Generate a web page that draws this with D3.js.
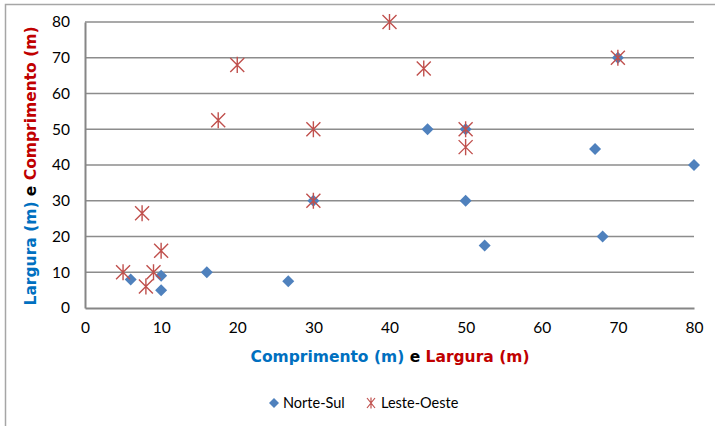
<!DOCTYPE html>
<html><head><meta charset="utf-8">
<script src="https://cdn.jsdelivr.net/npm/d3@7"></script>
<style>body{margin:0;background:#fff}svg{display:block}</style>
</head><body><svg id="c" width="715" height="426"></svg>
<script>
const seriesNames = ["Norte-Sul", "Leste-Oeste"];
const norteSulX = [6, 10, 10, 16, 26.7, 30, 45, 50, 50, 52.5, 67, 68, 70, 80];
const norteSulY = [8, 9, 5, 10, 7.5, 30, 50, 50, 30, 17.5, 44.5, 20, 70, 40];
const lesteOesteX = [5, 7.5, 8, 9, 10, 17.5, 20, 30, 30, 40, 44.5, 50, 50, 70];
const lesteOesteY = [10, 26.5, 6, 10, 16, 52.5, 68, 50, 30, 80, 67, 50, 45, 70];
const xTicks = [0, 10, 20, 30, 40, 50, 60, 70, 80];
const yTicks = [0, 10, 20, 30, 40, 50, 60, 70, 80];

const svg = d3.select("#c");
const blue = "#4F81BD", red = "#C0504D";
const tBlue = "#0070C0", tRed = "#C00000";
const tickFont = "Lato, 'Open Sans', sans-serif";
const titleFont = "'DejaVu Sans', Verdana, sans-serif";

// outer frame
svg.append("path").attr("d", "M5.5,426 L5.5,4.5 L715,4.5")
  .attr("fill", "none").attr("stroke", "#a6a6a6").attr("stroke-width", 1.5);

const x = d3.scaleLinear().domain([0, 80]).range([85, 694]);
const y = d3.scaleLinear().domain([0, 80]).range([308, 22]);

// gridlines
svg.append("g").selectAll("line").data(yTicks.filter(d => d > 0)).join("line")
  .attr("x1", x(0)).attr("x2", x(80)).attr("y1", d => y(d)).attr("y2", d => y(d))
  .attr("stroke", "#8c8c8c").attr("stroke-width", 1.3);

// axes
const yAxis = svg.append("g").attr("transform", `translate(${x(0)},0)`)
  .call(d3.axisLeft(y).tickValues(yTicks).tickSize(0).tickPadding(15));
const xAxis = svg.append("g").attr("transform", `translate(0,${y(0)})`)
  .call(d3.axisBottom(x).tickValues(xTicks).tickSize(0).tickPadding(14));
[yAxis, xAxis].forEach(a => {
  a.select(".domain").attr("stroke", "#868686").attr("stroke-width", 2);
  a.selectAll("text").attr("font-family", tickFont).attr("font-size", 15.5).attr("fill", "#000");
});

// series
const nsData = norteSulX.map((v, i) => [v, norteSulY[i]]);
const loData = lesteOesteX.map((v, i) => [v, lesteOesteY[i]]);
const diamond = "M0,-6 L6,0 L0,6 L-6,0 Z";
const star = s => `M${-s},${-s} L${s},${s} M${-s},${s} L${s},${-s} M0,${-s*1.15} L0,${s*1.15}`;

svg.append("g").selectAll("path").data(nsData).join("path")
  .attr("transform", d => `translate(${x(d[0])},${y(d[1])})`)
  .attr("d", diamond).attr("fill", blue);
svg.append("g").selectAll("path").data(loData).join("path")
  .attr("transform", d => `translate(${x(d[0])},${y(d[1])})`)
  .attr("d", star(7)).attr("fill", "none").attr("stroke", red).attr("stroke-width", 1.4);

// x title
const xt = svg.append("text").attr("x", 390).attr("y", 362).attr("text-anchor", "middle")
  .attr("font-family", titleFont).attr("font-weight", "bold").attr("font-size", 15.5)
  .attr("xml:space", "preserve");
xt.append("tspan").attr("fill", tBlue).text("Comprimento (m) ");
xt.append("tspan").attr("fill", "#000").text("e ");
xt.append("tspan").attr("fill", tRed).text("Largura (m)");

// y title
const yt = svg.append("text").attr("transform", "translate(36,166) rotate(-90)").attr("text-anchor", "middle")
  .attr("font-family", titleFont).attr("font-weight", "bold").attr("font-size", 15.5);
yt.append("tspan").attr("fill", tBlue).text("Largura (m) ");
yt.append("tspan").attr("fill", "#000").text("e ");
yt.append("tspan").attr("fill", tRed).text("Comprimento (m)");

// legend
const lg = svg.append("g");
lg.append("path").attr("transform", "translate(274,403)").attr("d", "M0,-5 L5,0 L0,5 L-5,0 Z").attr("fill", blue);
lg.append("text").attr("x", 283).attr("y", 408).text(seriesNames[0])
  .attr("font-family", tickFont).attr("font-size", 14.5).attr("fill", "#000");
lg.append("path").attr("transform", "translate(371,403)").attr("d", "M-4,-5 L4,5 M-4,5 L4,-5 M0,-5.5 L0,5.5")
  .attr("fill", "none").attr("stroke", red).attr("stroke-width", 1.2);
lg.append("text").attr("x", 381).attr("y", 408).text(seriesNames[1])
  .attr("font-family", tickFont).attr("font-size", 14.5).attr("fill", "#000");
</script></body></html>
